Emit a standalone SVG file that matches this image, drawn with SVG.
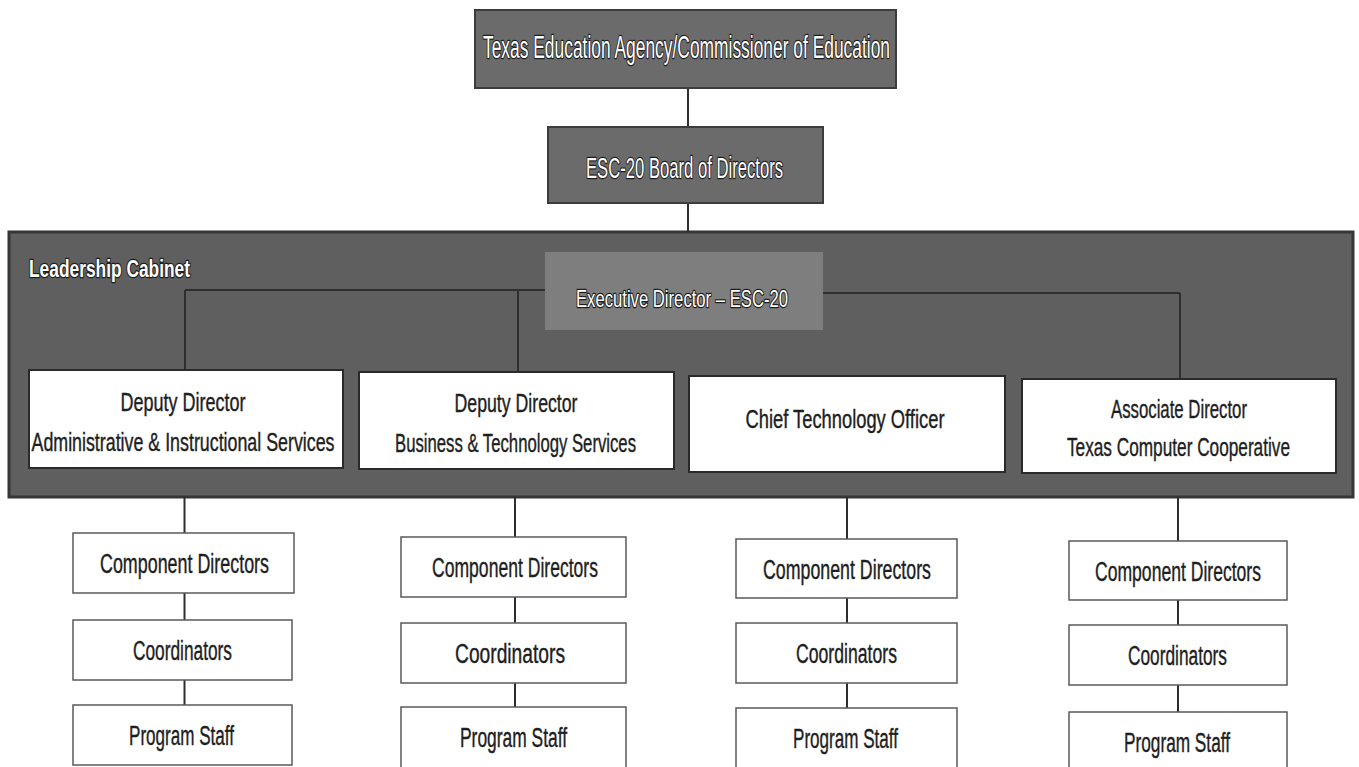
<svg xmlns="http://www.w3.org/2000/svg" width="1359" height="767" viewBox="0 0 1359 767">
<style>
.dk{fill:#6b6b6b;stroke:#3c3c3c;stroke-width:2}
.cab{fill:#5f5f5f;stroke:#363636;stroke-width:3}
.ex{fill:#7e7e7e}
.wb{fill:#ffffff;stroke:#2a2a2a;stroke-width:2}
.sb{fill:#ffffff;stroke:#5a5a5a;stroke-width:1.5}
.wt{font-family:"Liberation Sans Narrow","Liberation Sans",Arial,sans-serif;fill:#ffffff;stroke:#1e1e1e;stroke-width:2.5;paint-order:stroke;stroke-linejoin:round;text-anchor:middle}
.bt{font-family:"Liberation Sans Narrow","Liberation Sans",Arial,sans-serif;fill:#1e1e1e;stroke:#1e1e1e;stroke-width:0.4;text-anchor:middle}
.cn line{stroke:#2e2e2e;stroke-width:2}
</style>
<rect width="1359" height="767" fill="#ffffff"/>
<g id="cabinet">
<rect class="cab" x="9" y="232" width="1344" height="265"/>
<text class="wt" x="29" y="277" font-size="24" font-weight="bold" style="text-anchor:start" textLength="161" lengthAdjust="spacingAndGlyphs">Leadership Cabinet</text>
</g>
<g class="cn" id="connectors">
<line x1="688" y1="88" x2="688" y2="127"/>
<line x1="688" y1="203" x2="688" y2="232"/>
<line x1="185" y1="290" x2="545" y2="290"/>
<line x1="185" y1="290" x2="185" y2="370"/>
<line x1="518" y1="290" x2="518" y2="372"/>
<line x1="823" y1="293" x2="1180" y2="293"/>
<line x1="1180" y1="293" x2="1180" y2="379"/>
<line x1="184.5" y1="497" x2="184.5" y2="533"/>
<line x1="184.5" y1="593" x2="184.5" y2="620"/>
<line x1="184.5" y1="680" x2="184.5" y2="705"/>
<line x1="515" y1="497" x2="515" y2="537"/>
<line x1="515" y1="597" x2="515" y2="623"/>
<line x1="515" y1="683" x2="515" y2="707"/>
<line x1="847" y1="497" x2="847" y2="539"/>
<line x1="847" y1="598" x2="847" y2="623"/>
<line x1="847" y1="683" x2="847" y2="708"/>
<line x1="1178" y1="497" x2="1178" y2="541"/>
<line x1="1178" y1="600" x2="1178" y2="625"/>
<line x1="1178" y1="685" x2="1178" y2="712"/>
</g>
<g id="tea">
<rect class="dk" x="475" y="10" width="421" height="78"/>
<text class="wt" x="686.5" y="58" font-size="31" textLength="407" lengthAdjust="spacingAndGlyphs">Texas Education Agency/Commissioner of Education</text>
</g>
<g id="board">
<rect class="dk" x="548" y="127" width="275" height="76"/>
<text class="wt" x="684.5" y="178" font-size="29" textLength="197" lengthAdjust="spacingAndGlyphs">ESC-20 Board of Directors</text>
</g>
<g id="exec">
<rect class="ex" x="545" y="252" width="278" height="78"/>
<text class="wt" x="682" y="307" font-size="24" stroke-width="2" textLength="212" lengthAdjust="spacingAndGlyphs">Executive Director – ESC-20</text>
</g>
<g id="dd-ais">
<rect class="wb" x="29" y="370" width="314" height="98"/>
<text class="bt" x="183" y="411" font-size="25" textLength="125" lengthAdjust="spacingAndGlyphs">Deputy Director</text>
<text class="bt" x="183" y="451" font-size="25" textLength="303" lengthAdjust="spacingAndGlyphs">Administrative  &amp; Instructional Services</text>
</g>
<g id="dd-bts">
<rect class="wb" x="359" y="372" width="315" height="97"/>
<text class="bt" x="516" y="412" font-size="25" textLength="123" lengthAdjust="spacingAndGlyphs">Deputy Director</text>
<text class="bt" x="515.5" y="452" font-size="25" textLength="241" lengthAdjust="spacingAndGlyphs">Business &amp; Technology Services</text>
</g>
<g id="cto">
<rect class="wb" x="689" y="376" width="316" height="96"/>
<text class="bt" x="845" y="428" font-size="25" textLength="199" lengthAdjust="spacingAndGlyphs">Chief Technology Officer</text>
</g>
<g id="ad-tcc">
<rect class="wb" x="1022" y="379" width="314" height="94"/>
<text class="bt" x="1179" y="418" font-size="25" textLength="136" lengthAdjust="spacingAndGlyphs">Associate Director</text>
<text class="bt" x="1178.5" y="456" font-size="25" textLength="223" lengthAdjust="spacingAndGlyphs">Texas Computer Cooperative</text>
</g>
<g id="c1-cd"><rect class="sb" x="73" y="533" width="221" height="60"/><text class="bt" x="184.5" y="573" font-size="27" textLength="169" lengthAdjust="spacingAndGlyphs">Component Directors</text></g>
<g id="c1-co"><rect class="sb" x="73" y="620" width="219" height="60"/><text class="bt" x="182.5" y="660" font-size="27" textLength="99" lengthAdjust="spacingAndGlyphs">Coordinators</text></g>
<g id="c1-ps"><rect class="sb" x="73" y="705" width="219" height="60"/><text class="bt" x="181.5" y="745" font-size="27" textLength="105" lengthAdjust="spacingAndGlyphs">Program Staff</text></g>
<g id="c2-cd"><rect class="sb" x="401" y="537" width="225" height="60"/><text class="bt" x="515" y="577" font-size="27" textLength="166" lengthAdjust="spacingAndGlyphs">Component Directors</text></g>
<g id="c2-co"><rect class="sb" x="401" y="623" width="225" height="60"/><text class="bt" x="510" y="663" font-size="27" textLength="110" lengthAdjust="spacingAndGlyphs">Coordinators</text></g>
<g id="c2-ps"><rect class="sb" x="401" y="707" width="225" height="62"/><text class="bt" x="513.5" y="747" font-size="27" textLength="107" lengthAdjust="spacingAndGlyphs">Program Staff</text></g>
<g id="c3-cd"><rect class="sb" x="736" y="539" width="221" height="59"/><text class="bt" x="847" y="579" font-size="27" textLength="168" lengthAdjust="spacingAndGlyphs">Component Directors</text></g>
<g id="c3-co"><rect class="sb" x="736" y="623" width="221" height="60"/><text class="bt" x="846.5" y="663" font-size="27" textLength="101" lengthAdjust="spacingAndGlyphs">Coordinators</text></g>
<g id="c3-ps"><rect class="sb" x="736" y="708" width="221" height="61"/><text class="bt" x="845.5" y="748" font-size="27" textLength="105" lengthAdjust="spacingAndGlyphs">Program Staff</text></g>
<g id="c4-cd"><rect class="sb" x="1069" y="541" width="218" height="59"/><text class="bt" x="1178" y="581" font-size="27" textLength="166" lengthAdjust="spacingAndGlyphs">Component Directors</text></g>
<g id="c4-co"><rect class="sb" x="1069" y="625" width="218" height="60"/><text class="bt" x="1177.5" y="665" font-size="27" textLength="99" lengthAdjust="spacingAndGlyphs">Coordinators</text></g>
<g id="c4-ps"><rect class="sb" x="1069" y="712" width="218" height="57"/><text class="bt" x="1177" y="752" font-size="27" textLength="106" lengthAdjust="spacingAndGlyphs">Program Staff</text></g>
</svg>
